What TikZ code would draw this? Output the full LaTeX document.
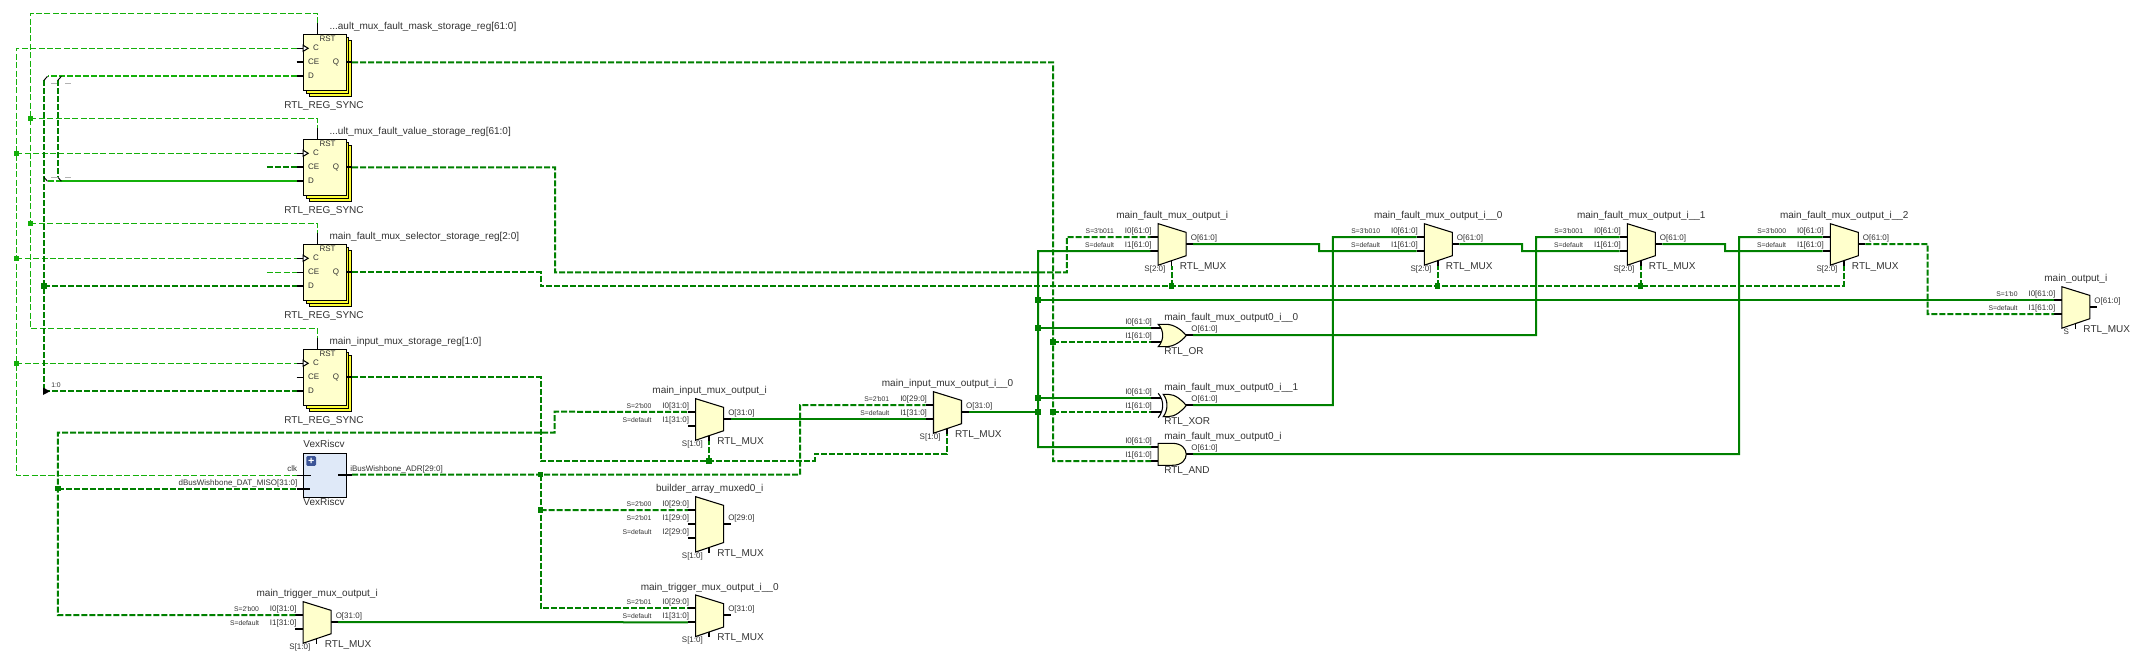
\documentclass[tikz,border=0pt]{standalone}
\usepackage{fontspec}
\setmainfont{Liberation Sans}
\usetikzlibrary{calc}
\definecolor{netd}{RGB}{0,128,0}
\definecolor{netl}{RGB}{20,176,10}
\definecolor{body}{RGB}{255,255,204}
\definecolor{stack}{RGB}{255,255,51}
\definecolor{vexb}{RGB}{223,233,248}
\definecolor{vexi}{RGB}{60,84,150}
\definecolor{txt}{RGB}{50,50,50}
\newcommand{\qq}{\textquotesingle}
\tikzset{
 busd/.style={draw=netd,line width=1.5pt,dash pattern=on 4.5pt off 1.5pt},
 busld/.style={draw=netl,line width=1.5pt,dash pattern=on 4.5pt off 1.5pt},
 buss/.style={draw=netd,line width=1.5pt},
 busl/.style={draw=netl,line width=1.5pt},
 ctl/.style={draw=netl,line width=.75pt,dash pattern=on 4.5pt off 1.8pt},
 pinbus/.style={draw=black,line width=1.4pt},
 pinthin/.style={draw=black,line width=.75pt},
 outl/.style={draw=black,line width=.8pt},
 ripper/.style={draw=black,line width=.7pt},
 greydash/.style={draw=black!30,line width=.6pt,dash pattern=on 4.5pt off 6pt},
 namel/.style={inner sep=0pt,text=txt,font=\fontsize{7.5}{8}\selectfont,text height=5.4pt,text depth=1.3pt},
 pinl/.style={inner sep=0pt,text=txt,font=\fontsize{6}{7}\selectfont,text height=4.3pt,text depth=1.1pt},
 tinyl/.style={inner sep=0pt,text=txt,font=\fontsize{5.1}{6}\selectfont,text height=3.7pt,text depth=.6pt},
 juncd/.style={fill=netd,inner sep=0pt,minimum size=4pt},
 juncl/.style={fill=netl,inner sep=0pt,minimum size=4pt},
}
% name, y0, title, CE style
\newcommand{\regblk}[4]{%
\begin{scope}[shift={(303.2,#2)}]
 \coordinate (#1-org) at (0,0);
 \draw[outl,fill=stack] (6,6) rectangle (48.5,62);
 \draw[outl,fill=stack] (3,3) rectangle (45.5,59);
 \node[outl,fill=body,inner sep=0pt,anchor=north west,minimum width=31.8pt,minimum height=42pt] (#1-box) at (0,0) {};
 \coordinate (#1-rst) at (14.3,-11);
 \coordinate (#1-c) at (-6.7,14);
 \coordinate (#1-ce) at (-6.7,28);
 \coordinate (#1-d) at (-6.7,42);
 \coordinate (#1-q) at (48.8,28);
 \draw[pinthin] (#1-rst) -- (14.3,0);
 \draw[pinthin] (#1-c) -- (0,14);
 \draw[#4] (#1-ce) -- (0,28);
 \draw[pinbus] (#1-d) -- (0,42);
 \draw[pinbus] (#1-q) -- (42.5,28);
 \draw[pinthin,fill=white] (0,11) -- (5,14) -- (0,17) -- cycle;
 \node[pinl] (#1-lr) at (24.3,5) {RST};
 \node[pinl,anchor=west] (#1-lc) at (9.7,14) {C};
 \node[pinl,anchor=west] (#1-lce) at (4.7,28) {CE};
 \node[pinl,anchor=west] (#1-ld) at (4.7,42) {D};
 \node[pinl] (#1-lq) at (32.8,28) {Q};
 \node[namel,anchor=west] (#1-title) at (26.1,-7.7) {#3};
 \node[namel] (#1-type) at (20.8,71.3) {RTL\_REG\_SYNC};
\end{scope}}
% name, x0, y0, H, title, O text, S text, S pin style
\newcommand{\muxblk}[8]{%
\begin{scope}[shift={(#2,#3)}]
 \coordinate (#1-org) at (0,0);
 \pgfmathsetmacro{\hh}{#4}
 \pgfmathsetmacro{\oo}{#4/2-0.45}
 \coordinate (#1-o) at (35,\oo);
 \coordinate (#1-s) at (13.3,\hh+0.7);
 \draw[pinbus] (#1-o) -- (28,\oo);
 \draw[#8] (#1-s) -- (13.3,\hh-5);
 \draw[outl,fill=body] (0,0) -- (28,8.7) -- (28,\hh-9.5) -- (0,\hh) -- cycle;
 \node[namel] (#1-title) at (14,-7.6) {#5};
 \node[pinl,anchor=west] (#1-ol) at (32.3,\oo-6) {#6};
 \node[pinl,anchor=east] (#1-sl) at (7.4,\hh+4.2) {#7};
 \node[namel,anchor=west] (#1-type) at (21.4,\hh+1.5) {RTL\_MUX};
\end{scope}}
% name, pin, y offset, pin text, selector text
\newcommand{\muxin}[5]{%
\begin{scope}[shift={(#1-org)}]
 \coordinate (#1-#2) at (-7.8,#3);
 \draw[pinbus] (#1-#2) -- (0,#3);
 \node[pinl,anchor=east] (#1-#2-l) at (-6.3,#3-5.6) {#4};
 \node[tinyl,anchor=east] (#1-#2-s) at (-44,#3-5.6) {#5};
\end{scope}}
% name, y0, title, type, stub reach, outline
\newcommand{\gateblk}[6]{%
\begin{scope}[shift={(1158.2,#2)}]
 \coordinate (#1-org) at (0,0);
 \coordinate (#1-i0) at (-7,3.7);
 \coordinate (#1-i1) at (-7,17.7);
 \coordinate (#1-o) at (35,10.9);
 \draw[pinbus] (#1-i0) -- (#5,3.7);
 \draw[pinbus] (#1-i1) -- (#5,17.7);
 \draw[pinbus] (#1-o) -- (28,10.9);
 #6
 \node[pinl,anchor=east] (#1-l0) at (-6,-2) {I0[61:0]};
 \node[pinl,anchor=east] (#1-l1) at (-6,12) {I1[61:0]};
 \node[pinl,anchor=west] (#1-lo) at (33,5.1) {O[61:0]};
 \node[namel,anchor=west] (#1-title) at (5.8,-6.6) {#3};
 \node[namel,anchor=west] (#1-type) at (5.8,27.2) {#4};
\end{scope}}
\begin{document}
\begin{tikzpicture}[x=0.75pt,y=-0.75pt]
\useasboundingbox (0,0) rectangle (2146,667);
% ---------- registers
\regblk{r1}{34.3}{...ault\_mux\_fault\_mask\_storage\_reg[61:0]}{pinbus}
\regblk{r2}{139.3}{...ult\_mux\_fault\_value\_storage\_reg[61:0]}{pinbus}
\regblk{r3}{244.3}{main\_fault\_mux\_selector\_storage\_reg[2:0]}{pinthin}
\regblk{r4}{349.3}{main\_input\_mux\_storage\_reg[1:0]}{pinthin}
% ---------- VexRiscv
\node[outl,fill=vexb,inner sep=0pt,anchor=north west,minimum width=31.8pt,minimum height=32.5pt] (vex) at (303.2,453.3) {};
\node[fill=vexi,rounded corners=1pt,inner sep=0pt,minimum size=7.4pt,text=white,font=\bfseries\fontsize{8}{8}\selectfont] (vex-plus) at (311.2,461) {+};
\coordinate (vex-clk) at (296.5,475.3);
\coordinate (vex-clkb) at (311,475.3);
\coordinate (vex-dbus) at (296.5,488.7);
\coordinate (vex-dbusb) at (310,488.7);
\coordinate (vex-adr) at (352,474.7);
\coordinate (vex-adrb) at (338,474.7);
\draw[pinthin] (vex-clk) -- (vex-clkb);
\draw[pinbus] (vex-dbus) -- (vex-dbusb);
\draw[pinbus] (vex-adr) -- (vex-adrb);
\node[namel] (vex-top) at (324,444.7) {VexRiscv};
\node[namel] (vex-bot) at (324,502.3) {VexRiscv};
\node[pinl,anchor=east] (vex-lclk) at (297.5,469.3) {clk};
\node[pinl,anchor=east] (vex-ld) at (297.5,483.3) {dBusWishbone\_DAT\_MISO[31:0]};
\node[pinl,anchor=west] (vex-la) at (350,469.3) {iBusWishbone\_ADR[29:0]};
% ---------- muxes
\muxblk{tm}{303.2}{601.7}{41.5}{main\_trigger\_mux\_output\_i}{O[31:0]}{S[1:0]}{pinbus}
\muxin{tm}{i0}{13.3}{I0[31:0]}{S=2\qq b00}
\muxin{tm}{i1}{27.3}{I1[31:0]}{S=default}
\muxblk{im}{695.7}{398.7}{41.5}{main\_input\_mux\_output\_i}{O[31:0]}{S[1:0]}{pinbus}
\muxin{im}{i0}{13.3}{I0[31:0]}{S=2\qq b00}
\muxin{im}{i1}{27.3}{I1[31:0]}{S=default}
\muxblk{bm}{695.7}{496.7}{55.3}{builder\_array\_muxed0\_i}{O[29:0]}{S[1:0]}{pinbus}
\muxin{bm}{i0}{13.3}{I0[29:0]}{S=2\qq b00}
\muxin{bm}{i1}{27.3}{I1[29:0]}{S=2\qq b01}
\muxin{bm}{i2}{41.3}{I2[29:0]}{S=default}
\muxblk{tz}{695.7}{595}{41.5}{main\_trigger\_mux\_output\_i\_\_0}{O[31:0]}{S[1:0]}{pinbus}
\muxin{tz}{i0}{13.3}{I0[29:0]}{S=2\qq b01}
\muxin{tz}{i1}{27.3}{I1[31:0]}{S=default}
\muxblk{iz}{933.5}{391.7}{41.5}{main\_input\_mux\_output\_i\_\_0}{O[31:0]}{S[1:0]}{pinbus}
\muxin{iz}{i0}{13.3}{I0[29:0]}{S=2\qq b01}
\muxin{iz}{i1}{27.3}{I1[31:0]}{S=default}
\muxblk{fa}{1158.2}{223.7}{41.5}{main\_fault\_mux\_output\_i}{O[61:0]}{S[2:0]}{pinbus}
\muxin{fa}{i0}{13.3}{I0[61:0]}{S=3\qq b011}
\muxin{fa}{i1}{27.3}{I1[61:0]}{S=default}
\muxblk{fb}{1424.3}{223.7}{41.5}{main\_fault\_mux\_output\_i\_\_0}{O[61:0]}{S[2:0]}{pinbus}
\muxin{fb}{i0}{13.3}{I0[61:0]}{S=3\qq b010}
\muxin{fb}{i1}{27.3}{I1[61:0]}{S=default}
\muxblk{fc}{1627.3}{223.7}{41.5}{main\_fault\_mux\_output\_i\_\_1}{O[61:0]}{S[2:0]}{pinbus}
\muxin{fc}{i0}{13.3}{I0[61:0]}{S=3\qq b001}
\muxin{fc}{i1}{27.3}{I1[61:0]}{S=default}
\muxblk{fd}{1830.3}{223.7}{41.5}{main\_fault\_mux\_output\_i\_\_2}{O[61:0]}{S[2:0]}{pinbus}
\muxin{fd}{i0}{13.3}{I0[61:0]}{S=3\qq b000}
\muxin{fd}{i1}{27.3}{I1[61:0]}{S=default}
\muxblk{mo}{2061.8}{286.7}{41.5}{main\_output\_i}{O[61:0]}{S}{pinthin}
\muxin{mo}{i0}{13.3}{I0[61:0]}{S=1\qq b0}
\muxin{mo}{i1}{27.3}{I1[61:0]}{S=default}
% ---------- gates
\gateblk{org}{324.3}{main\_fault\_mux\_output0\_i\_\_0}{RTL\_OR}{3}{%
 \draw[outl,fill=body] (0,0) -- (8,0) .. controls (16,0) and (24,6) .. (28,11.2) .. controls (24,16.4) and (16,22.4) .. (8,22.4) -- (0,22.4) .. controls (6,16) and (6,6) .. (0,0) -- cycle;}
\gateblk{xog}{394.3}{main\_fault\_mux\_output0\_i\_\_1}{RTL\_XOR}{3}{%
 \draw[outl,fill=body] (5,0) -- (10,0) .. controls (17,0) and (24,6) .. (28,11.2) .. controls (24,16.4) and (17,22.4) .. (10,22.4) -- (5,22.4) .. controls (10,16) and (10,6) .. (5,0) -- cycle;
 \draw[outl] (0,-1) .. controls (6,6) and (6,16) .. (0,23.4);}
\gateblk{ang}{443.3}{main\_fault\_mux\_output0\_i}{RTL\_AND}{0}{%
 \draw[outl,fill=body] (0,0) -- (14,0) .. controls (24,0) and (28,6) .. (28,11) .. controls (28,16) and (24,22) .. (14,22) -- (0,22) -- cycle;}
% ---------- reset net
\coordinate (rtop) at (30.4,13.3);
\coordinate (rbot) at (30.4,328.3);
\coordinate (jr2) at (30.4,118.3);
\coordinate (jr3) at (30.4,223.3);
\draw[ctl] (r1-rst) |- (rtop) -- (rbot) -| (r4-rst);
\draw[ctl] (jr2) -| (r2-rst);
\draw[ctl] (jr3) -| (r3-rst);
% ---------- clock net
\coordinate (clkb) at (16.4,475.3);
\coordinate (jc2) at (clkb |- r2-c);
\coordinate (jc3) at (clkb |- r3-c);
\coordinate (jc4) at (clkb |- r4-c);
\draw[ctl] (r1-c) -| (clkb) -- (vex-clk);
\draw[ctl] (jc2) -- (r2-c);
\draw[ctl] (jc3) -- (r3-c);
\draw[ctl] (jc4) -- (r4-c);
% ---------- data nets on the left
\coordinate (a0) at (47.5,76.3);
\coordinate (a1) at (44,80.3);
\coordinate (a2) at (44,177.3);
\coordinate (a3) at (47.5,181.3);
\coordinate (a4) at (44,391.3);
\coordinate (b0) at (61.4,76.3);
\coordinate (b1) at (57.9,80.3);
\coordinate (b2) at (57.9,177.3);
\coordinate (b3) at (61.4,181.3);
\coordinate (ja3) at (a1 |- r3-d);
\coordinate (ga1) at (51,83.3);
\coordinate (ga2) at (71,83.3);
\coordinate (gb1) at (51,177.3);
\coordinate (gb2) at (71,177.3);
\draw[greydash] (ga1) -- (ga2);
\draw[greydash] (gb1) -- (gb2);
\draw[busld] (r1-d) -- (a0);
\draw[busd] (a1) -- (a4);
\draw[busd] (b1) -- (b2);
\draw[busld] (a3) -- (b3);
\draw[busl] (b3) -- (r2-d);
\draw[busd] (ja3) -- (r3-d);
\draw[busd] (a4) -- (r4-d);
\draw[ripper] (a0) -- (a1);
\draw[ripper] (b0) -- (b1);
\draw[ripper] (a2) -- (a3);
\draw[ripper] (b2) -- (b3);
\coordinate (tri1) at (43,387.5);
\coordinate (tri2) at (50,391.3);
\coordinate (tri3) at (43,395);
\fill (tri1) -- (tri2) -- (tri3) -- cycle;
\node[tinyl,anchor=west] (rip-l) at (51,385.7) {1:0};
\coordinate (ce2s) at (r2-ce -| 266.8,0);
\coordinate (ce3s) at (r3-ce -| 266.8,0);
\draw[busd] (ce2s) -- (r2-ce);
\draw[ctl] (ce3s) -- (r3-ce);
% ---------- register outputs
\coordinate (q1b) at (1053,461);
\coordinate (jd1) at (q1b |- org-i1);
\coordinate (jd2) at (q1b |- xog-i1);
\draw[busd] (r1-q) -| (q1b) -- (ang-i1);
\draw[busd] (jd1) -- (org-i1);
\draw[busd] (jd2) -- (xog-i1);
\coordinate (q2a) at (555,272.3);
\coordinate (q2b) at (1066.8,237);
\draw[busd] (r2-q) -| (q2a) -| (q2b) -- (fa-i0);
\coordinate (q3a) at (540.7,286);
\draw[busd] (r3-q) -| (q3a) -| (fd-s);
\coordinate (js1) at (fa-s |- q3a);
\coordinate (js2) at (fb-s |- q3a);
\coordinate (js3) at (fc-s |- q3a);
\draw[busd] (js1) -- (fa-s);
\draw[busd] (js2) -- (fb-s);
\draw[busd] (js3) -- (fc-s);
\coordinate (q4a) at (540.7,461);
\coordinate (q4b) at (814.6,453.7);
\coordinate (js4) at (im-s |- q4a);
\draw[busd] (r4-q) -| (q4a) -| (q4b) -| (iz-s);
\draw[busd] (js4) -- (im-s);
% ---------- processor nets
\coordinate (c1) at (57.9,432.7);
\coordinate (c2) at (554.6,411.7);
\coordinate (jc5) at (c1 |- vex-dbus);
\draw[busd] (tm-i0) -| (c1) -| (c2) -- (im-i0);
\draw[busd] (jc5) -- (vex-dbus);
\coordinate (d1) at (800,405);
\coordinate (d2) at (540.7,474.7);
\coordinate (d3) at (540.7,608.3);
\coordinate (d4) at (540.7,510);
\draw[busd] (vex-adr) -| (d1) -- (iz-i0);
\draw[busd] (d2) -- (d3) -- (tz-i0);
\draw[busd] (d4) -- (bm-i0);
% ---------- solid buses
\draw[buss] (tm-o) -- (tz-i1);
\draw[buss] (im-o) -- (iz-i1);
\coordinate (t0) at (1038,447);
\coordinate (jt1) at (t0 |- mo-i0);
\coordinate (jt2) at (t0 |- org-i0);
\coordinate (jt3) at (t0 |- xog-i0);
\coordinate (jt4) at (t0 |- iz-o);
\draw[buss] (iz-o) -- (jt4);
\draw[buss] (fa-i1) -| (t0) -- (ang-i0);
\draw[buss] (jt1) -- (mo-i0);
\draw[buss] (jt2) -- (org-i0);
\draw[buss] (jt3) -- (xog-i0);
\coordinate (e1) at (1319,251);
\coordinate (e2) at (1522,251);
\coordinate (e3) at (1725,251);
\draw[buss] (fa-o) -| (e1) -- (fb-i1);
\draw[buss] (fb-o) -| (e2) -- (fc-i1);
\draw[buss] (fc-o) -| (e3) -- (fd-i1);
\coordinate (g1) at (1332.9,237);
\coordinate (g2) at (1536,237);
\coordinate (g3) at (1739,237);
\draw[buss] (xog-o) -| (g1) -- (fb-i0);
\draw[buss] (org-o) -| (g2) -- (fc-i0);
\draw[buss] (ang-o) -| (g3) -- (fd-i0);
\coordinate (h1) at (1927.7,314);
\draw[busd] (fd-o) -| (h1) -- (mo-i1);
% ---------- junction dots
\foreach \c in {jr2,jr3,jc2,jc3,jc4}{\node[juncl] (J-\c) at (\c) {};}
\foreach \c in {jc5,jd1,jd2,js1,js2,js3,js4,d2,d4,jt1,jt2,jt3,jt4}{\node[juncd] (J-\c) at (\c) {};}
\node[juncd,minimum size=4.6pt] (J-ja3) at (ja3) {};
\end{tikzpicture}
\end{document}
